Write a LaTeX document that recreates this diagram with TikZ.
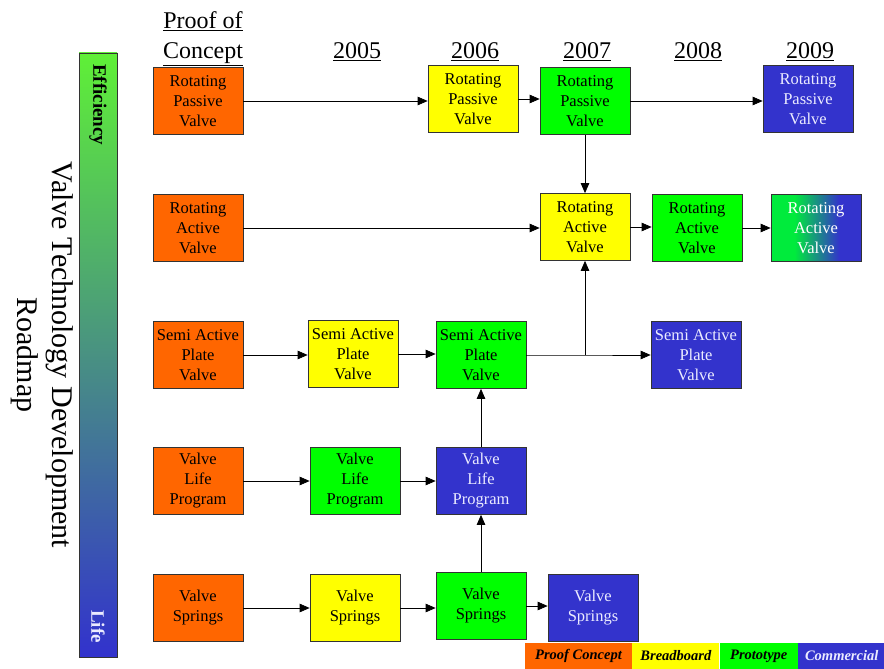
\documentclass[tikz,border=0pt]{standalone}
\usepackage{fontspec}
\setmainfont{Liberation Serif}
\usepackage{xcolor}
\usetikzlibrary{arrows.meta,positioning,calc}
\definecolor{vtOrange}{RGB}{255,102,0}
\definecolor{vtYellow}{RGB}{255,255,0}
\definecolor{vtGreen}{RGB}{0,255,0}
\definecolor{vtBlue}{RGB}{51,51,204}
\definecolor{vtBarTop}{RGB}{95,240,55}
\definecolor{vtBarBot}{RGB}{50,50,205}
\definecolor{vtFade}{RGB}{0,235,60}
\definecolor{vtPale}{RGB}{235,235,255}
\pgfdeclarehorizontalshading{vtGreenBlue}{100bp}{color(0bp)=(vtFade); color(25bp)=(vtFade); color(38bp)=(vtFade); color(63bp)=(vtBlue); color(100bp)=(vtBlue)}

\begin{document}
\begin{tikzpicture}[
    x=1pt, y=-1pt,
    stage/.style={draw=black!80, line width=0.7pt, align=center, inner sep=0pt, minimum width=90pt, minimum height=67pt, font=\fontsize{16.5}{20}\selectfont},
    poc/.style={stage, fill=vtOrange},
    bread/.style={stage, fill=vtYellow},
    proto/.style={stage, fill=vtGreen},
    comm/.style={stage, fill=vtBlue, text=vtPale},
    fading/.style={stage, shading=vtGreenBlue, text=white},
    year/.style={font=\fontsize{24}{30}\selectfont, align=center},
    legend/.style={inner sep=0pt, minimum height=26pt, font=\fontsize{14.5}{16}\selectfont\bfseries\itshape},
    arrow/.style={-{Triangle[length=10pt,width=8.5pt]}, line width=0.7pt}
  ]
    \useasboundingbox (0,0) rectangle (884,669);
    % title and bar
    \node[rotate=-90, align=center, font=\fontsize{30}{35}\selectfont] (title) at (42,355) {Valve Technology Development\\Roadmap};
    \node[draw=black!80, line width=0.7pt, top color=vtBarTop, bottom color=vtBarBot, minimum width=38pt, minimum height=604pt, inner sep=0pt] (bar) at (98,355) {};
    \node[rotate=-90, font=\fontsize{19}{20}\selectfont\bfseries, anchor=west] (eff) at ($(bar.north)+(0,8)$) {Efficiency};
    \node[rotate=-90, font=\fontsize{19}{20}\selectfont\bfseries, text=vtPale, anchor=east] (life) at ($(bar.south)+(0,-11)$) {Life};
    % column heads
    \node[year] (hPoc) at (203,39) {\underline{Proof of}\\\underline{Concept}};
    \node[year] (h05) at (357,52) {\underline{2005}};
    \node[year] (h06) at (475,52) {\underline{2006}};
    \node[year] (h07) at (587,52) {\underline{2007}};
    \node[year] (h08) at (698,52) {\underline{2008}};
    \node[year] (h09) at (810,52) {\underline{2009}};
    % rotating passive valve
    \node[poc] (rpPoc) at (198,101) {Rotating\\Passive\\Valve};
    \node[bread] (rp06) at (473,99) {Rotating\\Passive\\Valve};
    \node[proto] (rp07) at (585,101) {Rotating\\Passive\\Valve};
    \node[comm] (rp09) at (808,99) {Rotating\\Passive\\Valve};
    % rotating active valve
    \node[poc] (raPoc) at (198,228) {Rotating\\Active\\Valve};
    \node[bread] (ra07) at (585,227) {Rotating\\Active\\Valve};
    \node[proto] (ra08) at (697,228) {Rotating\\Active\\Valve};
    \node[fading] (ra09) at (816,228) {Rotating\\Active\\Valve};
    % semi active plate valve
    \node[poc] (spPoc) at (198,355) {Semi Active\\Plate\\Valve};
    \node[bread] (sp05) at (353,354) {Semi Active\\Plate\\Valve};
    \node[proto] (sp06) at (481,355) {Semi Active\\Plate\\Valve};
    \node[comm] (sp08) at (696,355) {Semi Active\\Plate\\Valve};
    % valve life program
    \node[poc] (lpPoc) at (198,481) {Valve\\Life\\Program};
    \node[proto] (lp05) at (355,481) {Valve\\Life\\Program};
    \node[comm] (lp06) at (481,481) {Valve\\Life\\Program};
    % valve springs
    \node[poc] (vsPoc) at (198,608) {Valve\\Springs};
    \node[bread] (vs05) at (355,608) {Valve\\Springs};
    \node[proto] (vs06) at (481,606) {Valve\\Springs};
    \node[comm] (vs07) at (593,608) {Valve\\Springs};
    % connectors
    \draw[arrow] (rpPoc.east) -- (rpPoc.east -| rp06.west);
    \draw[arrow] (rp06.east) -- (rp06.east -| rp07.west);
    \draw[arrow] (rp07.east) -- (rp07.east -| rp09.west);
    \draw[arrow] (rp07) -- (ra07);
    \draw[arrow] (raPoc.east) -- (raPoc.east -| ra07.west);
    \draw[arrow] (ra07.east) -- (ra07.east -| ra08.west);
    \draw[arrow] (ra08.east) -- (ra08.east -| ra09.west);
    \draw[arrow] (spPoc.east) -- (spPoc.east -| sp05.west);
    \draw[arrow] (sp05.east) -- (sp05.east -| sp06.west);
    \coordinate (fork) at (sp06.east -| ra07.south);
    \draw[arrow] (sp06.east) -- (fork) -- (fork -| sp08.west);
    \draw[arrow] (fork) -- (ra07.south);
    \draw[arrow] (lpPoc) -- (lp05);
    \draw[arrow] (lp05) -- (lp06);
    \draw[arrow] (lp06) -- (sp06);
    \draw[arrow] (vsPoc.east) -- (vsPoc.east -| vs05.west);
    \draw[arrow] (vs05.east) -- (vs05.east -| vs06.west);
    \draw[arrow] (vs06.east) -- (vs06.east -| vs07.west);
    \draw[arrow] (vs06) -- (lp06);
    % legend
    \node[legend, fill=vtOrange, minimum width=107pt] (lgPoc) at (578.5,656) {Proof Concept};
    \node[legend, fill=vtYellow, minimum width=87pt, right=0pt of lgPoc] (lgBread) {Breadboard};
    \node[legend, fill=vtGreen, minimum width=78pt, right=0pt of lgBread] (lgProto) {Prototype};
    \node[legend, fill=vtBlue, text=vtPale, minimum width=87pt, right=0pt of lgProto] (lgComm) {Commercial};
  \end{tikzpicture}
\end{document}
